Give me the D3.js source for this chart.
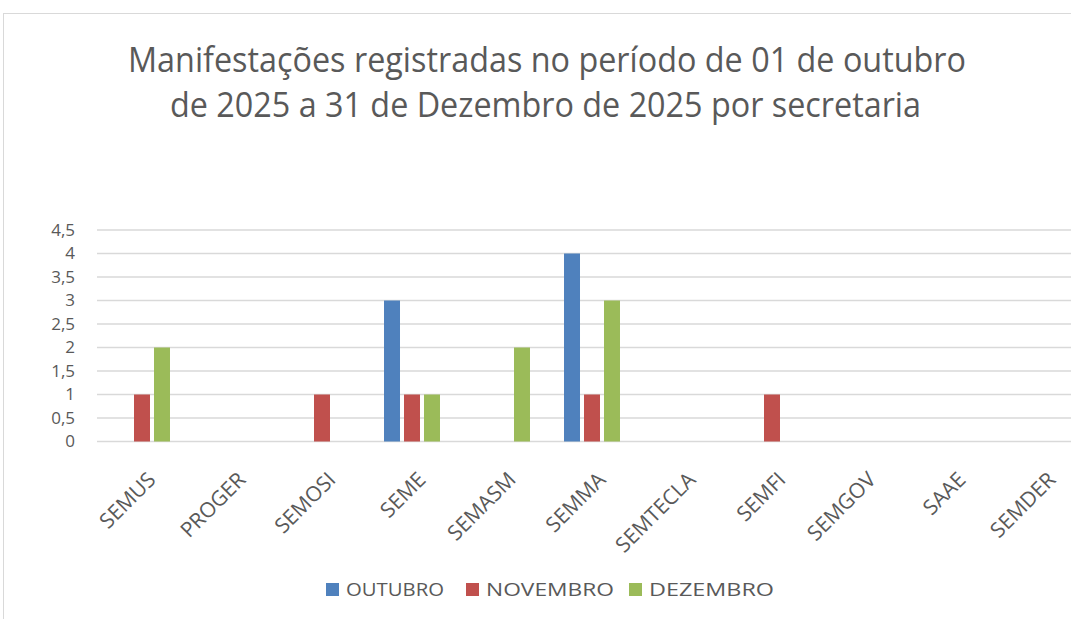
<!DOCTYPE html>
<html><head><meta charset="utf-8">
<script src="https://cdn.jsdelivr.net/npm/d3@7"></script>
<style>html,body{margin:0;padding:0;background:#fff;overflow:hidden}</style>
</head><body>
<svg id="c" width="1071" height="619"></svg>
<script>
const categories = ["SEMUS","PROGER","SEMOSI","SEME","SEMASM","SEMMA","SEMTECLA","SEMFI","SEMGOV","SAAE","SEMDER"];
const seriesNames = ["OUTUBRO","NOVEMBRO","DEZEMBRO"];
const outubro  = [0,0,0,3,0,4,0,0,0,0,0];
const novembro = [1,0,1,1,0,1,0,1,0,0,0];
const dezembro = [2,0,0,1,2,3,0,0,0,0,0];
const yTicks = [0,0.5,1,1.5,2,2.5,3,3.5,4,4.5];
const titleLines = ["Manifestações registradas no período de 01 de outubro","de 2025 a 31 de Dezembro de 2025 por secretaria"];
const colors = ["#4F81BD","#C0504D","#9BBB59"];

const seriesValues = [outubro, novembro, dezembro];
const svg = d3.select("#c");
const font = "'Open Sans', sans-serif";
const txt = "#595959";

svg.append("rect").attr("x",3.5).attr("y",13.5).attr("width",1200).attr("height",700)
  .attr("fill","#fff").attr("stroke","#D9D9D9").attr("stroke-width",1);

// title
const titleLen = [838, 751];
const titleX = [128, 170];
titleLines.forEach((t,i)=>{
  svg.append("text").attr("x",titleX[i]).attr("y",72+i*45)
    .attr("font-family",font).attr("font-size",35).attr("fill",txt)
    .attr("textLength",titleLen[i]).attr("lengthAdjust","spacingAndGlyphs").text(t);
});

const x0 = d3.scaleBand().domain(categories).range([97,1087]).paddingInner(0.378).paddingOuter(0.189);
const x1 = d3.scaleBand().domain(seriesNames).range([0,x0.bandwidth()]).paddingInner(0.2);
const y = d3.scaleLinear().domain([0,4.5]).range([441.5,230]);

// gridlines
svg.append("g").selectAll("line").data(yTicks).join("line")
  .attr("x1",97).attr("x2",1100).attr("y1",d=>y(d)).attr("y2",d=>y(d))
  .attr("stroke","#D9D9D9").attr("stroke-width",1.5);

// y labels
const fmt = d=>String(d).replace(".",",");
svg.append("g").selectAll("text").data(yTicks).join("text")
  .attr("x",75).attr("y",d=>y(d)).attr("dy","0.35em").attr("text-anchor","end")
  .attr("font-family",font).attr("font-size",17).attr("fill",txt).text(fmt);

// bars
seriesNames.forEach((s,si)=>{
  svg.append("g").selectAll("rect").data(categories).join("rect")
    .attr("x",c=>x0(c)+x1(s)).attr("width",x1.bandwidth())
    .attr("y",(c,i)=>y(seriesValues[si][i]))
    .attr("height",(c,i)=>y(0)-y(seriesValues[si][i]))
    .attr("fill",colors[si]);
});

// x labels
svg.append("g").selectAll("text").data(categories).join("text")
  .attr("transform",c=>`translate(${x0(c)+x0.bandwidth()/2+15},${481}) rotate(-45)`)
  .attr("text-anchor","end").attr("font-family",font).attr("font-size",21).attr("fill",txt)
  .text(c=>c);

// legend
const legX = [326, 466, 629];
const legLen = [98, 128, 125];
seriesNames.forEach((s,i)=>{
  svg.append("rect").attr("x",legX[i]).attr("y",583).attr("width",13).attr("height",13).attr("fill",colors[i]);
  svg.append("text").attr("x",legX[i]+20).attr("y",596).attr("font-family",font).attr("font-size",19)
    .attr("fill",txt).attr("textLength",legLen[i]).attr("lengthAdjust","spacingAndGlyphs").text(s);
});
</script>
</body></html>
